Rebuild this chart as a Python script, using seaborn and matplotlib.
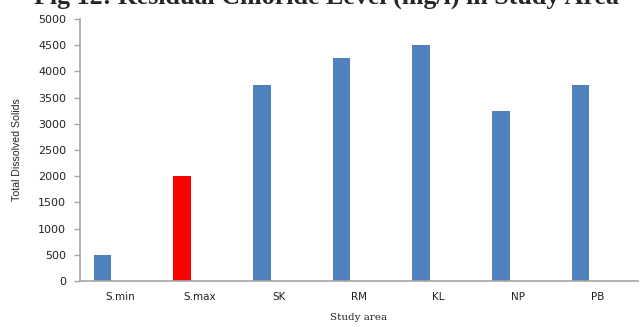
import matplotlib
matplotlib.use("Agg")
import matplotlib.pyplot as plt
import numpy as np
import pandas as pd
import seaborn as sns

# Total dissolved solids per study area
categories = ["S.min", "S.max", "SK", "RM", "KL", "NP", "PB"]
tds_values = [500, 2000, 3750, 4250, 4500, 3250, 3750]
series_names = ["TDS", "s2", "s3"]
y_ticks = [0, 500, 1000, 1500, 2000, 2500, 3000, 3500, 4000, 4500, 5000]

blue = "#4F81BD"
red = "#FF0000"
axis_gray = "#A6A6A6"

rows = []
for c, v in zip(categories, tds_values):
    rows.append({"area": c, "series": series_names[0], "value": v})
    for s in series_names[1:]:
        rows.append({"area": c, "series": s, "value": np.nan})
df = pd.DataFrame(rows)

sns.set_style("white")
fig = plt.figure(figsize=(6.43, 3.27), dpi=100)
ax = fig.add_axes([80 / 643, 1 - 281 / 327, 558 / 643, 262 / 327])

sns.barplot(data=df, x="area", y="value", hue="series", order=categories,
            hue_order=series_names, palette=[blue, blue, blue], width=0.66,
            gap=0, errorbar=None, legend=False, ax=ax, saturation=1)

# highlight the S.max bar
for p in ax.patches:
    if np.isfinite(p.get_height()) and p.get_height() > 0:
        cx = p.get_x() + p.get_width() / 2
        if round(cx + 0.22) == 1:
            p.set_facecolor(red)
    p.set_edgecolor("none")

ax.set_xlim(-0.5, 6.5)
ax.set_ylim(0, 5000)
ax.set_yticks(y_ticks)
ax.set_yticklabels([str(t) for t in y_ticks])

for s in ["top", "right"]:
    ax.spines[s].set_visible(False)
for s in ["left", "bottom"]:
    ax.spines[s].set_color(axis_gray)
    ax.spines[s].set_linewidth(1.2)

ax.tick_params(axis="y", which="major", length=4, width=1, color=axis_gray,
               direction="out", left=True, pad=6, labelsize=8, labelcolor="#222222")
ax.tick_params(axis="x", length=0, pad=8, labelsize=7.5, labelcolor="#222222")
for lbl in ax.get_xticklabels() + ax.get_yticklabels():
    lbl.set_family("DejaVu Sans")

ax.set_xlabel("Study area", family="DejaVu Serif", fontsize=7.5, labelpad=8)
ax.set_ylabel("")
fig.text(17 / 643, 1 - 150 / 327, "Total Dissolved Solids", rotation=90,
         ha="center", va="center", family="Liberation Sans", fontsize=7.6)

fig.text(326 / 643, 1 - 3.5 / 327,
         "Fig 12: Residual Chloride Level (mg/l) in Study Area",
         ha="center", va="baseline", family="Liberation Serif",
         fontweight="bold", fontsize=18.7)

fig.savefig("out.png", dpi=100)
